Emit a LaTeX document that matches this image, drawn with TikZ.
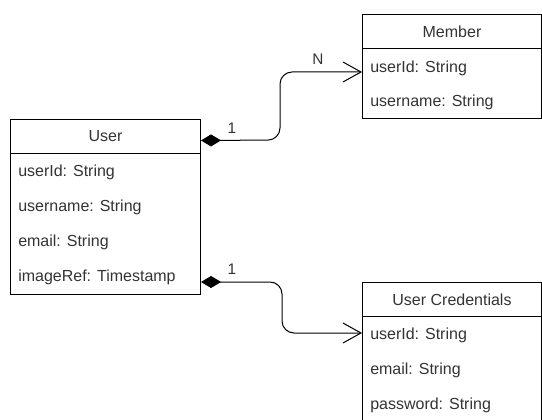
\documentclass[tikz,border=0pt]{standalone}
\usepackage{fontspec}
\setmainfont{Liberation Sans}
\usetikzlibrary{calc}
\usetikzlibrary{arrows.meta}

\definecolor{txt}{HTML}{333333}

\tikzset{
  classbox/.style={draw, anchor=north west, inner sep=0pt, line width=0.75pt},
  classhead/.style={draw, anchor=north west, inner sep=0pt, line width=0.75pt,
    minimum height=25.5pt, font=\fontsize{12}{14}\selectfont, text=txt},
  attr/.style={anchor=west, inner sep=0pt, font=\fontsize{12}{14}\selectfont, text=txt},
  card/.style={inner sep=0pt, font=\fontsize{11.5}{13}\selectfont, text=txt},
  owns/.style={{Diamond[length=15pt,width=9pt]}-{Straight Barb[length=13.5pt,width=15pt]},
    rounded corners=9pt, line width=0.75pt},
}

\begin{document}
\begin{tikzpicture}[x=0.75pt,y=-0.75pt]
\useasboundingbox (0,0) rectangle (542,420);

% User
\node[classbox, minimum width=142.5pt, minimum height=131.25pt] (ubox) at (10,119) {};
\node[classhead, minimum width=142.5pt] (user) at (10,119) {User};
\node[attr] (u1) at (18,172.5) {userId: String};
\node[attr] (u2) at (18,207.5) {username: String};
\node[attr] (u3) at (18,242.5) {email: String};
\node[attr] (u4) at (18,277.5) {imageRef: Timestamp};

% Member
\node[classbox, minimum width=134.25pt, minimum height=78pt] (mbox) at (362,14) {};
\node[classhead, minimum width=134.25pt] (mem) at (362,14) {Member};
\node[attr] (m1) at (370,68.5) {userId: String};
\node[attr] (m2) at (370,102.5) {username: String};

% User Credentials
\node[classbox, minimum width=134.25pt, minimum height=104.25pt] (cbox) at (362,282) {};
\node[classhead, minimum width=134.25pt] (cred) at (362,282) {User Credentials};
\node[attr] (c1) at (370,335.5) {userId: String};
\node[attr] (c2) at (370,370.5) {email: String};
\node[attr] (c3) at (370,405.5) {password: String};

% links
\draw[owns] ($(user.east)+(0,4)$) -- (280,140) -- (280,72) -- (mbox.west |- 0,72);
\draw[owns] (ubox.east |- 0,282) -- (282,282) -- (282,333) -- (cbox.west |- 0,333);

\node[card] (k1) at (232,128) {1};
\node[card] (kN) at (318,59) {N};
\node[card] (k2) at (232,269) {1};
\end{tikzpicture}
\end{document}
